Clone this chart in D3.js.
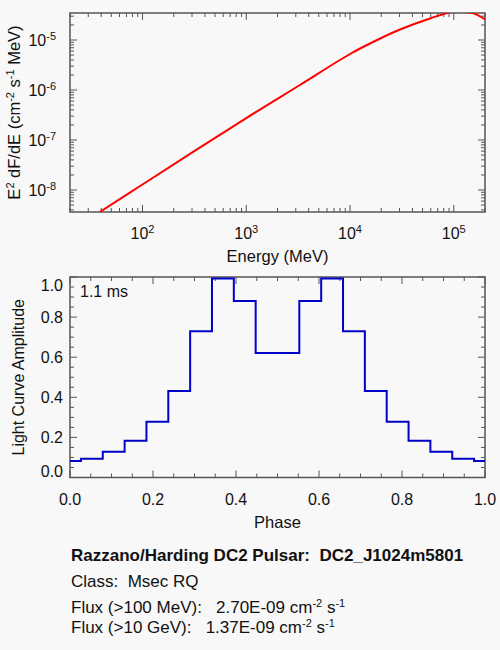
<!DOCTYPE html>
<html>
<head>
<meta charset="utf-8">
<script src="https://cdn.jsdelivr.net/npm/d3@7"></script>
<style>
body {margin:0; background:#f8f8f8;}
svg {display:block; font-family:"Liberation Sans", Arial, sans-serif;}
text {fill:#111;}
</style>
</head>
<body>
<div id="chart"></div>
<script>
"use strict"
// Spectrum, E^2 dF/dE vs energy
var energyMeV = [38.7, 100, 1000, 3290, 10000, 17420, 30340, 59020, 100000, 125600, 154500, 200400];
var e2dfde = [3.63e-9, 1.29e-8, 2.75e-7, 1.26e-6, 5.25e-6, 9.55e-6, 1.62e-5, 2.69e-5, 3.72e-5, 3.63e-5, 3.42e-5, 2.59e-5];

// Light curve, 20 phase bins
var phase = [0, 0.0526, 0.1053, 0.1579, 0.2105, 0.2632, 0.3158, 0.3684, 0.4211, 0.4737,
	0.5263, 0.5789, 0.6316, 0.6842, 0.7368, 0.7895, 0.8421, 0.8947, 0.9474, 1.0];
var amplitude = [0.082, 0.094, 0.128, 0.183, 0.278, 0.432, 0.730, 0.993, 0.880, 0.621,
	0.621, 0.880, 0.993, 0.730, 0.432, 0.278, 0.183, 0.128, 0.094, 0.082];

var energyTicks = [1e2, 1e3, 1e4, 1e5];
var fluxTicks = [1e-8, 1e-7, 1e-6, 1e-5];
var phaseTicks = [0, 0.2, 0.4, 0.6, 0.8, 1.0];
var ampTicks = [0, 0.2, 0.4, 0.6, 0.8, 1.0];

var sp = "\u00a0";
var periodLabel = "1.1 ms";
var titleLine = "Razzano/Harding DC2 Pulsar:" + sp + sp + "DC2_J1024m5801";
var classLine = "Class:" + sp + sp + "Msec RQ";
var fluxLabels = ["Flux (>100 MeV):", "Flux (>10 GeV):"];
var fluxValues = ["2.70E-09", "1.37E-09"];

var width = 500,
	height = 650;
var frameColor = "#555";

var svg = d3.select("#chart").append("svg")
	.attr("width", width)
	.attr("height", height)
	.style("background", "#f8f8f8");

// fill a text with plain and superscript pieces
function supText(t, parts) {
	parts.forEach(function(p) {
		var s = t.append("tspan").text(p[0]);
		if (p[1] === "sup") s.attr("font-size", 11).attr("dy", -6);
		if (p[1] === "down") s.attr("dy", 6);
	});
}

function drawTicks(g, xs, ys, xAll, yAll, xMajor, yMajor) {
	var x0 = xs.range()[0], x1 = xs.range()[1];
	var y0 = ys.range()[1], y1 = ys.range()[0];
	var tk = g.append("g").attr("stroke", frameColor).attr("stroke-width", 1);
	xAll.forEach(function(v) {
		var len = xMajor(v) ? 7 : 4;
		var x = xs(v);
		tk.append("line").attr("x1", x).attr("x2", x).attr("y1", y1).attr("y2", y1 - len);
		tk.append("line").attr("x1", x).attr("x2", x).attr("y1", y0).attr("y2", y0 + len);
	});
	yAll.forEach(function(v) {
		var len = yMajor(v) ? 7 : 4;
		var y = ys(v);
		tk.append("line").attr("x1", x0).attr("x2", x0 + len).attr("y1", y).attr("y2", y);
		tk.append("line").attr("x1", x1).attr("x2", x1 - len).attr("y1", y).attr("y2", y);
	});
	g.append("rect")
		.attr("x", x0).attr("y", y0)
		.attr("width", x1 - x0).attr("height", y1 - y0)
		.attr("fill", "none")
		.attr("stroke", frameColor)
		.attr("stroke-width", 1.5);
}

// ---- spectrum panel ----
var top1 = {l: 70, r: 485, t: 13, b: 212};
var xE = d3.scaleLog().domain([20, 2e5]).range([top1.l, top1.r]);
var yF = d3.scaleLog().domain([3.63e-9, 3.47e-5]).range([top1.b, top1.t]);

svg.append("clipPath").attr("id", "clip1").append("rect")
	.attr("x", top1.l).attr("y", top1.t)
	.attr("width", top1.r - top1.l).attr("height", top1.b - top1.t);

var g1 = svg.append("g");
var isDecade = function(v) { return Math.abs(Math.log10(v) - Math.round(Math.log10(v))) < 1e-6; };
drawTicks(g1, xE, yF, xE.ticks(), yF.ticks(), isDecade, isDecade);

g1.append("path")
	.datum(d3.zip(energyMeV, e2dfde))
	.attr("clip-path", "url(#clip1)")
	.attr("fill", "none")
	.attr("stroke", "#f00")
	.attr("stroke-width", 2)
	.attr("d", d3.line()
		.x(function(d) { return xE(d[0]); })
		.y(function(d) { return yF(d[1]); })
		.curve(d3.curveCatmullRom));

energyTicks.forEach(function(v) {
	var t = g1.append("text")
		.attr("x", xE(v)).attr("y", 239)
		.attr("text-anchor", "middle")
		.attr("font-size", 16);
	supText(t, [["10"], [String(Math.round(Math.log10(v))), "sup"]]);
});
fluxTicks.forEach(function(v) {
	var t = g1.append("text")
		.attr("x", 56).attr("y", yF(v) + 6)
		.attr("text-anchor", "end")
		.attr("font-size", 16);
	supText(t, [["10"], [String(Math.round(Math.log10(v))), "sup"]]);
});
g1.append("text")
	.attr("x", (top1.l + top1.r) / 2).attr("y", 262)
	.attr("text-anchor", "middle")
	.attr("font-size", 16.5)
	.text("Energy (MeV)");
var yl1 = g1.append("text")
	.attr("transform", "translate(20," + (top1.t + top1.b) / 2 + ") rotate(-90)")
	.attr("text-anchor", "middle")
	.attr("font-size", 16.5);
supText(yl1, [["E"], ["2", "sup"], [" dF/dE (cm", "down"], ["-2", "sup"], [" s", "down"], ["-1", "sup"], [" MeV)", "down"]]);

// ---- light curve panel ----
var bot = {l: 70, r: 485, t: 277, b: 477.5};
var xP = d3.scaleLinear().domain([0, 1]).range([bot.l, bot.r]);
var yA = d3.scaleLinear().domain([0, 1]).range([bot.b, bot.t]);

var g2 = svg.append("g");
var minor05 = d3.range(0, 1.0001, 0.05);
var isMajor = function(v) { return Math.abs(v * 5 - Math.round(v * 5)) < 1e-6; };
drawTicks(g2, xP, yA, minor05, minor05, isMajor, isMajor);

g2.append("path")
	.datum(d3.zip(phase, amplitude))
	.attr("fill", "none")
	.attr("stroke", "#0000c8")
	.attr("stroke-width", 2)
	.attr("d", d3.line()
		.x(function(d) { return xP(d[0]); })
		.y(function(d) { return yA(d[1]); })
		.curve(d3.curveStep));

phaseTicks.forEach(function(v) {
	g2.append("text")
		.attr("x", xP(v)).attr("y", 505)
		.attr("text-anchor", "middle")
		.attr("font-size", 16)
		.text(d3.format(".1f")(v));
});
ampTicks.forEach(function(v) {
	var y = yA(v) + 6;
	if (v === 1) y = 291;
	if (v === 0) y = 477;
	g2.append("text")
		.attr("x", 63).attr("y", y)
		.attr("text-anchor", "end")
		.attr("font-size", 16)
		.text(d3.format(".1f")(v));
});
g2.append("text")
	.attr("x", (bot.l + bot.r) / 2).attr("y", 528)
	.attr("text-anchor", "middle")
	.attr("font-size", 16.5)
	.text("Phase");
g2.append("text")
	.attr("transform", "translate(24," + (bot.t + bot.b) / 2 + ") rotate(-90)")
	.attr("text-anchor", "middle")
	.attr("font-size", 16)
	.text("Light Curve Amplitude");
g2.append("text")
	.attr("x", 80).attr("y", 297)
	.attr("font-size", 16)
	.text(periodLabel);

// ---- info text ----
var info = svg.append("g").attr("font-size", 17);
info.append("text")
	.attr("x", 71).attr("y", 561)
	.attr("font-weight", "bold")
	.text(titleLine);
info.append("text")
	.attr("x", 71).attr("y", 587)
	.text(classLine);
[613, 633].forEach(function(y, i) {
	var t = info.append("text").attr("x", 71).attr("y", y);
	supText(t, [[fluxLabels[i] + sp + sp + sp + fluxValues[i] + " cm"], ["-2", "sup"], [" s", "down"], ["-1", "sup"]]);
});
</script>
</body>
</html>
